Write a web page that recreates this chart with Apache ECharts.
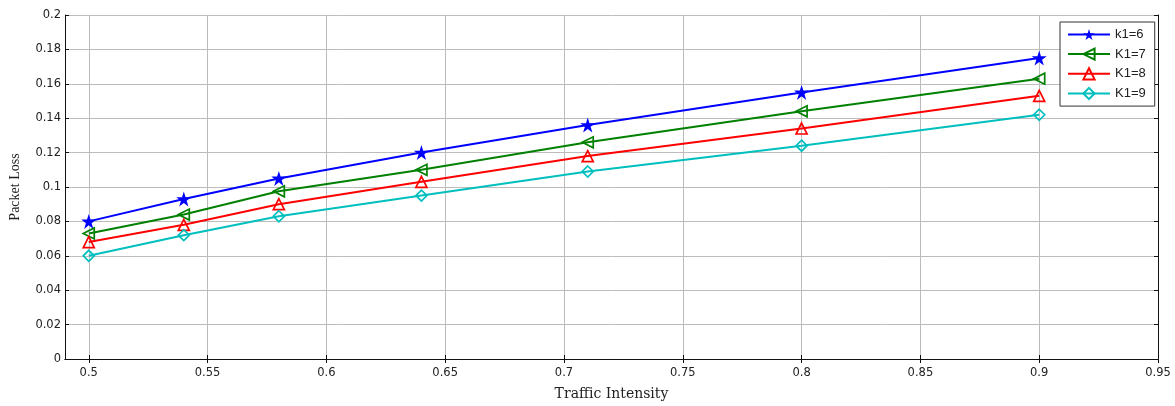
<!DOCTYPE html>
<html><head><meta charset="utf-8">
<script src="https://cdn.jsdelivr.net/npm/echarts@6/dist/echarts.min.js"></script>
<style>html,body{margin:0;padding:0;background:#fff}#c{width:1175px;height:406px}</style>
</head><body><div id="c"></div>
<script>
const xValues = [0.5, 0.54, 0.58, 0.64, 0.71, 0.8, 0.9];
const k6 = [0.080, 0.093, 0.105, 0.120, 0.136, 0.155, 0.175];
const k7 = [0.073, 0.084, 0.0975, 0.110, 0.126, 0.144, 0.163];
const k8 = [0.068, 0.078, 0.090, 0.103, 0.118, 0.134, 0.153];
const k9 = [0.060, 0.072, 0.083, 0.095, 0.109, 0.124, 0.142];
const seriesNames = ['k1=6', 'K1=7', 'K1=8', 'K1=9'];
const xTicks = [0.5, 0.55, 0.6, 0.65, 0.7, 0.75, 0.8, 0.85, 0.9, 0.95];

const star = 'path://M50,0 L61.2,34.5 L97.6,34.5 L68.2,55.9 L79.4,90.5 L50,69.1 L20.6,90.5 L31.8,55.9 L2.4,34.5 L38.8,34.5 Z';
const colors = ['#0000ff', '#008000', '#ff0000', '#00bfbf'];
const pair = a => xValues.map((x, i) => [x, a[i]]);

const tickFont = {fontFamily: 'DejaVu Sans, sans-serif', fontSize: 11.5, color: '#222'};
const axisLineStyle = {lineStyle: {color: '#111', width: 1}};

function mk(name, data, i, symbol, rotate, filled) {
  return {
    name, type: 'line', data: pair(data), symbol, symbolSize: symbol === star ? 15 : 11,
    symbolRotate: rotate, showSymbol: true,
    lineStyle: {color: colors[i], width: 2},
    itemStyle: {color: filled ? colors[i] : 'rgba(255,255,255,0)', borderColor: colors[i], borderWidth: filled ? 0 : 1.7},
    emphasis: {disabled: true}, animation: false, z: 3
  };
}

const chart = echarts.init(document.getElementById('c'));
chart.setOption({
  backgroundColor: '#fff',
  animation: false,
  grid: {left: 62, right: 17, top: 15, bottom: 44, containLabel: false},
  legend: {
    orient: 'vertical', left: 1060, top: 22,
    padding: [6, 9, 6, 7], itemWidth: 42, itemHeight: 14, itemGap: 6.5,
    borderColor: '#333', borderWidth: 1, backgroundColor: '#fff',
    textStyle: {fontFamily: 'Liberation Sans, Arial, sans-serif', fontSize: 13, color: '#222'},
    data: seriesNames
  },
  xAxis: [{
    type: 'value', min: 0.49, max: 0.95, position: 'bottom',
    name: 'Traffic Intensity', nameLocation: 'middle', nameGap: 28,
    nameTextStyle: {fontFamily: 'DejaVu Serif, serif', fontSize: 14, color: '#222'},
    axisLine: axisLineStyle,
    axisTick: {inside: true, length: 4, customValues: xTicks, lineStyle: {color: '#111'}},
    axisLabel: {customValues: xTicks, margin: 8, ...tickFont},
    splitLine: {show: true, lineStyle: {color: '#bcbcbc', width: 1}}
  }, {
    type: 'value', min: 0.49, max: 0.95, position: 'top',
    axisLine: axisLineStyle,
    axisTick: {inside: true, length: 4, customValues: xTicks, lineStyle: {color: '#111'}},
    axisLabel: {show: false}, splitLine: {show: false}
  }],
  yAxis: [{
    type: 'value', min: 0, max: 0.2, interval: 0.02, position: 'left',
    name: 'Packet Loss', nameLocation: 'middle', nameGap: 43, nameRotate: 90,
    nameTextStyle: {fontFamily: 'Liberation Serif, Times New Roman, serif', fontSize: 14, color: '#222'},
    axisLine: {show: true, ...axisLineStyle},
    axisTick: {show: true, inside: true, length: 4, lineStyle: {color: '#111'}},
    axisLabel: {margin: 4, ...tickFont, formatter: v => String(+v.toFixed(2))},
    splitLine: {show: true, lineStyle: {color: '#bcbcbc', width: 1}}
  }, {
    type: 'value', min: 0, max: 0.2, interval: 0.02, position: 'right',
    axisLine: {show: true, ...axisLineStyle},
    axisTick: {show: true, inside: true, length: 4, lineStyle: {color: '#111'}},
    axisLabel: {show: false}, splitLine: {show: false}
  }],
  series: [
    mk(seriesNames[0], k6, 0, star, 0, true),
    mk(seriesNames[1], k7, 1, 'triangle', 90, false),
    mk(seriesNames[2], k8, 2, 'triangle', 0, false),
    mk(seriesNames[3], k9, 3, 'diamond', 0, false)
  ]
});
</script></body></html>
